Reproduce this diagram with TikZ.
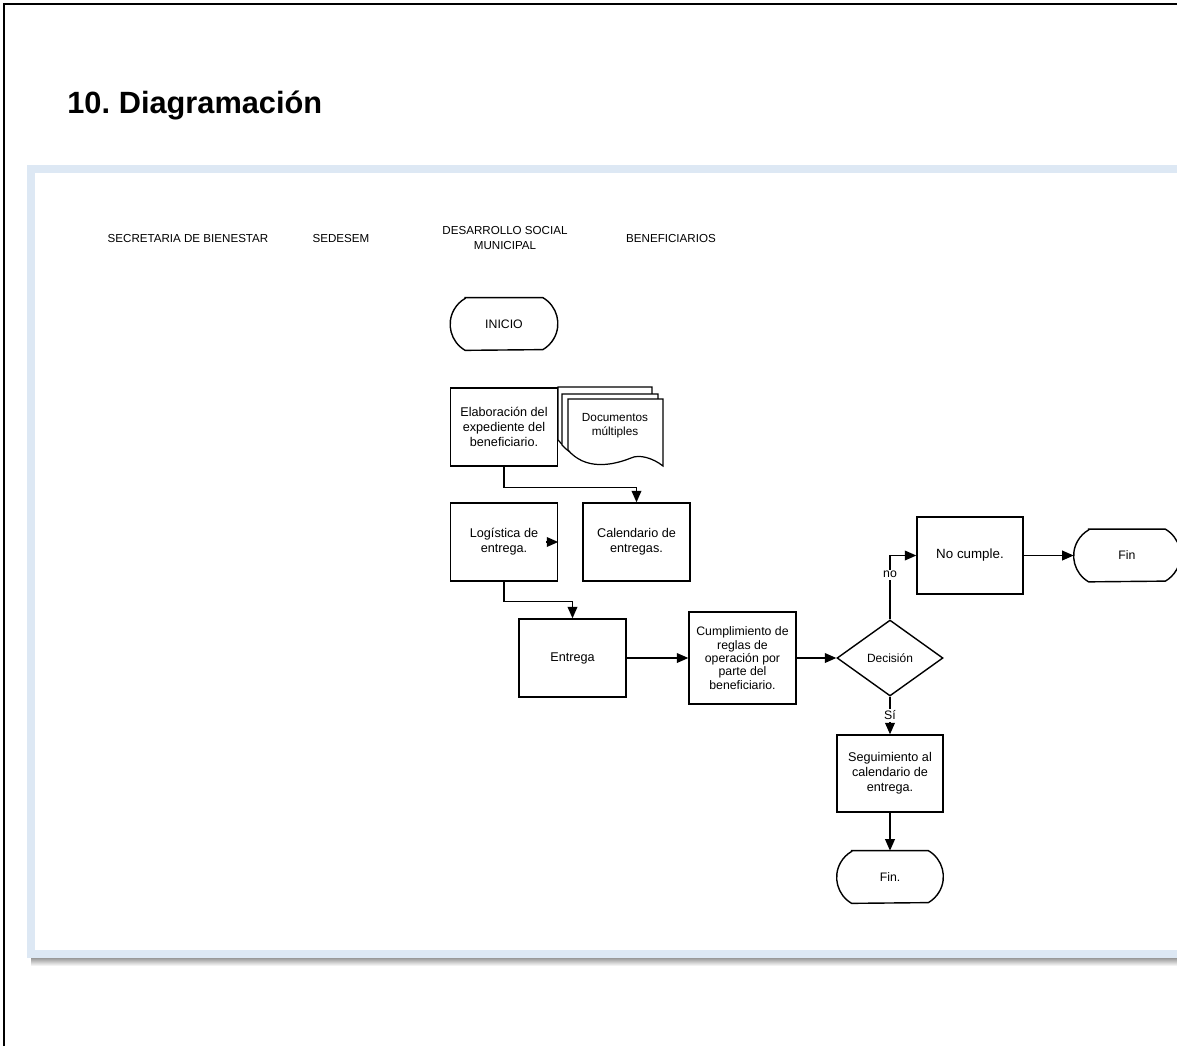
\documentclass[tikz,border=0pt]{standalone}
\usepackage{fontspec}
\setmainfont{Liberation Sans}
\usetikzlibrary{arrows.meta,shapes.geometric}
\definecolor{panelblue}{HTML}{DDE8F4}
\tikzset{
  proc/.style={draw, line width=0.8pt, fill=white, minimum width=2.14cm,
    minimum height=1.56cm, align=center, inner sep=1pt,
    font=\fontsize{7.2}{8.5}\selectfont},
  term/.style={minimum width=2.14cm, minimum height=1.04cm,
    align=center, font=\fontsize{7}{8.5}\selectfont,
    append after command={\pgfextra{\let\termnode\tikzlastnode
      \draw[line width=0.8pt]
      ([xshift=0.3cm]\termnode.north west)
      -- ([xshift=-0.3cm]\termnode.north east)
      arc[start angle=60, end angle=-60, radius=0.6cm]
      -- ([xshift=0.3cm]\termnode.south west)
      arc[start angle=240, end angle=120, radius=0.6cm] -- cycle;}}},
  decision/.style={draw, diamond, aspect=1.39, line width=0.8pt, fill=white,
    minimum width=2.12cm, minimum height=1.52cm, inner sep=0pt,
    font=\fontsize{6.8}{8}\selectfont},
  lane/.style={align=center, font=\fontsize{6.6}{8}\selectfont},
  flow/.style={line width=0.8pt, -{Triangle[length=6.5pt,width=5.5pt]}},
  lbl/.style={fill=white, inner sep=1pt, font=\fontsize{7}{8}\selectfont},
  page/.style={draw, line width=0.7pt, fill=white},
}
\begin{document}
\begin{tikzpicture}[x=0.02cm,y=-0.02cm]
\useasboundingbox (0,0) rectangle (1177,1046);

% frame of the page
\draw[line width=1.1pt] (4,1046) -- (4,4) -- (1177,4);

% title
\node[anchor=base west, inner sep=0pt, font=\fontsize{17.5}{20}\selectfont\bfseries]
  (title) at (67,113) {10.\hspace{5pt}Diagramación};

% panel
\shade[top color=black!45, bottom color=white] (31,957) rectangle (1177,966);
\fill[panelblue] (27,165) rectangle (1177,958);
\fill[white] (35,173) rectangle (1177,950);

% lanes
\node[lane] (secretaria) at (188,238) {SECRETARIA DE BIENESTAR};
\node[lane] (sedesem) at (341,238) {SEDESEM};
\node[lane] (municipal) at (505,238) {DESARROLLO SOCIAL\\MUNICIPAL};
\node[lane] (beneficiarios) at (671,238) {BENEFICIARIOS};

% documents
\draw[page] (558,387) -- (652,387) -- (652,456)
  .. controls (642,448) and (628,444) .. (620,448)
  .. controls (600,456) and (575,460) .. (558,440) -- cycle;
\draw[page] (562,394) -- (658,394) -- (658,461)
  .. controls (648,453) and (634,449) .. (626,453)
  .. controls (606,461) and (580,465) .. (562,445) -- cycle;
\draw[page] (568,399) -- (663,399) -- (663,466)
  .. controls (653,458) and (639,454) .. (631,458)
  .. controls (611,466) and (585,470) .. (568,450) -- cycle;
\node[lane, font=\fontsize{6.7}{8}\selectfont] (docs) at (615,426)
  {Documentos\\múltiples};

% flow
\node[term] (inicio) at (504,324) {INICIO};
\node[proc] (elab) at (504,427) {Elaboración del\\expediente del\\beneficiario.};
\node[proc] (logi) at (504,542) {Logística de\\entrega.};
\node[proc] (cal) at (636.5,542) {Calendario de\\entregas.};
\node[proc] (entrega) at (572.5,658) {Entrega};
\node[proc, minimum height=1.84cm, font=\fontsize{7}{7.6}\selectfont] (cumple) at (742.5,658)
  {Cumplimiento de\\reglas de\\operación por\\parte del\\beneficiario.};
\node[decision] (dec) at (890,658) {Decisión};
\node[proc, minimum width=2.12cm, minimum height=1.54cm,
  font=\fontsize{7.6}{9}\selectfont] (nocumple) at (970,555.5) {No cumple.};
\node[term, minimum width=2.12cm] (fin) at (1127,555.5) {Fin};
\node[proc, minimum width=2.12cm, minimum height=1.54cm] (seg) at (890,773.5)
  {Seguimiento al\\calendario de\\entrega.};
\node[term, minimum width=2.12cm] (finb) at (890,877) {Fin.};

\draw[flow] (elab.south) -- ++(0,21) -| (cal.north);
\draw[flow] ([xshift=-0.24cm]logi.east) -- (logi.east);
\draw[flow] (logi.south) -- ++(0,20) -| (entrega.north);
\draw[flow] (entrega) -- (cumple);
\draw[flow] (cumple) -- (dec);
\draw[flow] (dec.north) |- node[lbl, pos=0.35] {no} (nocumple.west);
\draw[flow] (nocumple) -- (fin);
\draw[flow] (dec.south) -- node[lbl] {Sí} (seg.north);
\draw[flow] (seg) -- (finb);

\end{tikzpicture}
\end{document}
